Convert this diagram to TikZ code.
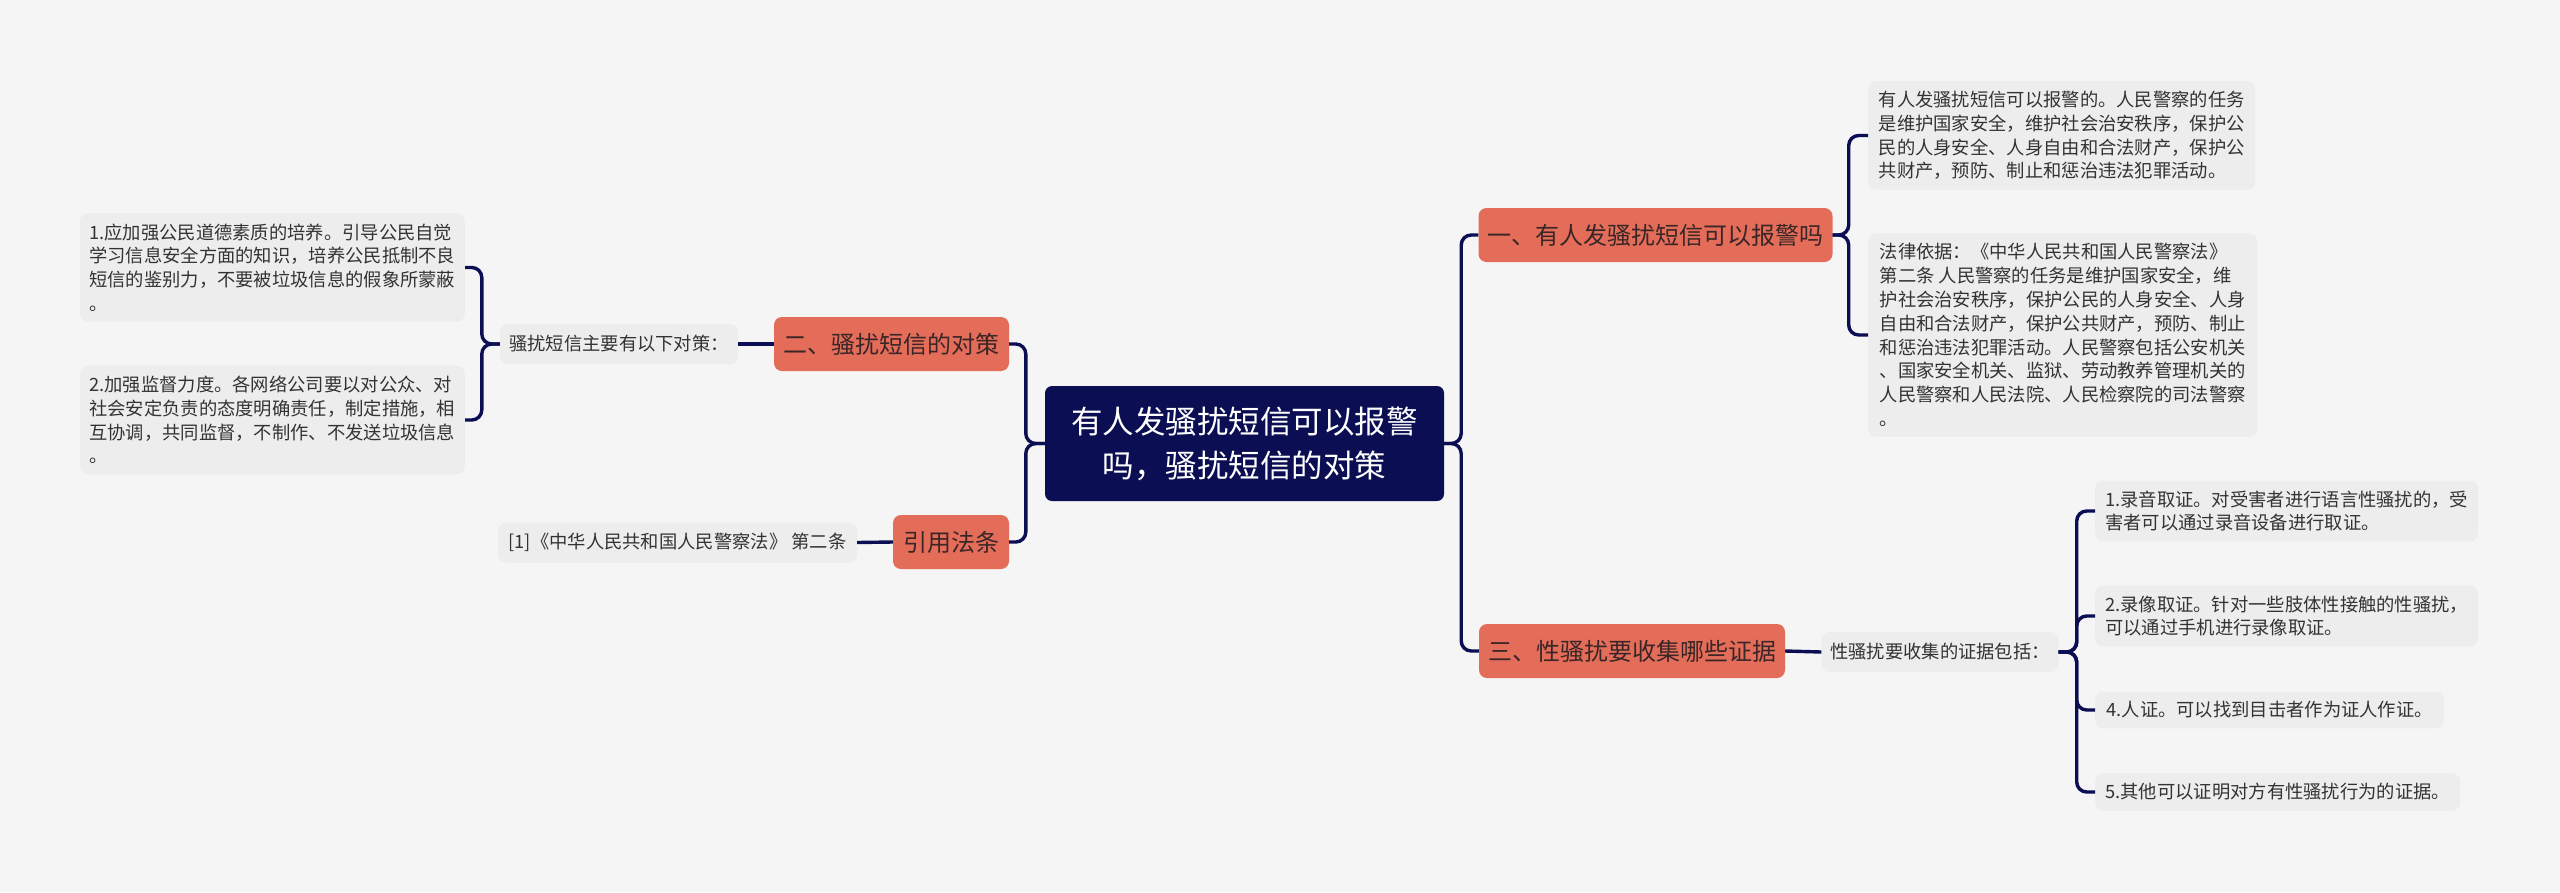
\documentclass[tikz,border=0pt]{standalone}
\usepackage{fontspec}
\setmainfont{Noto Sans CJK SC}
\usetikzlibrary{calc}
\definecolor{bgc}{HTML}{F5F5F5}
\definecolor{navy}{HTML}{0B0E52}
\definecolor{salmon}{HTML}{E46D5A}
\definecolor{boxfill}{HTML}{EDEDED}
\definecolor{txt}{HTML}{333333}
\definecolor{btxt}{HTML}{3A2626}
\begin{document}
\begin{tikzpicture}[x=1pt,y=-1pt,
  rootbox/.style={fill=navy,rounded corners=7pt,text=white,align=center,
    font=\fontsize{31.5}{44}\selectfont,minimum width=399pt,minimum height=115pt,inner sep=0pt},
  branchbox/.style={fill=salmon,rounded corners=8pt,text=btxt,
    font=\fontsize{24}{28}\selectfont,minimum height=54pt,inner xsep=9pt,inner ysep=0pt},
  leafbox/.style={fill=boxfill,rounded corners=8pt,text=txt,align=left,
    font=\fontsize{18.3}{23.8}\selectfont,inner xsep=8pt,inner ysep=10pt},
  subbox/.style={fill=boxfill,rounded corners=8pt,text=txt,
    font=\fontsize{18.3}{22}\selectfont,minimum height=40pt,inner xsep=8pt,inner ysep=0pt},
  link/.style={draw=navy,line width=3.4pt,rounded corners=10pt}
]
\useasboundingbox (0,0) rectangle (2560,892);
\fill[bgc] (0,0) rectangle (2560,892);

% root and branches
\node[rootbox] (root) at (1244.5,443.5) {有人发骚扰短信可以报警\\吗，骚扰短信的对策};
\node[branchbox,minimum width=353pt] (b1) at (1655.5,235) {一、有人发骚扰短信可以报警吗};
\node[branchbox,minimum width=235pt] (b2) at (891.5,344) {二、骚扰短信的对策};
\node[branchbox,minimum width=116pt] (b4) at (951,542) {引用法条};
\node[branchbox,minimum width=306pt] (b3) at (1632,651) {三、性骚扰要收集哪些证据};

% branch 1 children
\node[leafbox,anchor=west,minimum width=387pt] (t1) at (1868,135.5) {有人发骚扰短信可以报警的。人民警察的任务\\是维护国家安全，维护社会治安秩序，保护公\\民的人身安全、人身自由和合法财产，保护公\\共财产，预防、制止和惩治违法犯罪活动。};
\node[leafbox,anchor=west,minimum width=389pt] (t2) at (1868,335) {法律依据：《中华人民共和国人民警察法》\\第二条 人民警察的任务是维护国家安全，维\\护社会治安秩序，保护公民的人身安全、人身\\自由和合法财产，保护公共财产，预防、制止\\和惩治违法犯罪活动。人民警察包括公安机关\\、国家安全机关、监狱、劳动教养管理机关的\\人民警察和人民法院、人民检察院的司法警察\\。};

% branch 2 children
\node[subbox,minimum width=238pt] (s2) at (619,344) {骚扰短信主要有以下对策：};
\node[leafbox,anchor=east,minimum width=385pt] (l1) at (465,267.5) {1.应加强公民道德素质的培养。引导公民自觉\\学习信息安全方面的知识，培养公民抵制不良\\短信的鉴别力，不要被垃圾信息的假象所蒙蔽\\。};
\node[leafbox,anchor=east,minimum width=385pt] (l2) at (465,420) {2.加强监督力度。各网络公司要以对公众、对\\社会安定负责的态度明确责任，制定措施，相\\互协调，共同监督，不制作、不发送垃圾信息\\。};

% references
\node[subbox,minimum width=359pt] (r1) at (677.5,542.5) {[1]《中华人民共和国人民警察法》 第二条};

% branch 3 children
\node[subbox,minimum width=237pt] (s3) at (1940,652) {性骚扰要收集的证据包括：};
\node[leafbox,anchor=west,minimum width=383pt] (i1) at (2095,511) {1.录音取证。对受害者进行语言性骚扰的，受\\害者可以通过录音设备进行取证。};
\node[leafbox,anchor=west,minimum width=383pt] (i2) at (2095,616) {2.录像取证。针对一些肢体性接触的性骚扰，\\可以通过手机进行录像取证。};
\node[leafbox,anchor=west,minimum width=349pt] (i4) at (2095,710) {4.人证。可以找到目击者作为证人作证。};
\node[leafbox,anchor=west,minimum width=365pt] (i5) at (2095,792) {5.其他可以证明对方有性骚扰行为的证据。};

% connectors
\draw[link] (root.east) -- ++(17,0) |- (b1.west);
\draw[link] (root.east) -- ++(17,0) |- (b3.west);
\draw[link] (root.west) -- ++(-19,0) |- (b2.east);
\draw[link] (root.west) -- ++(-19,0) |- (b4.east);
\draw[link] (b1.east) -- ++(16,0) |- (t1.west);
\draw[link] (b1.east) -- ++(16,0) |- (t2.west);
\draw[link] (b2.west) -- (s2.east);
\draw[link] (s2.west) -- ++(-18,0) |- (l1.east);
\draw[link] (s2.west) -- ++(-18,0) |- (l2.east);
\draw[link] (b4.west) -- (r1.east);
\draw[link] (b3.east) -- (s3.west);
\draw[link] (s3.east) -- ++(18,0) |- (i1.west);
\draw[link] (s3.east) -- ++(18,0) |- (i2.west);
\draw[link] (s3.east) -- ++(18,0) |- (i4.west);
\draw[link] (s3.east) -- ++(18,0) |- (i5.west);
\end{tikzpicture}
\end{document}
